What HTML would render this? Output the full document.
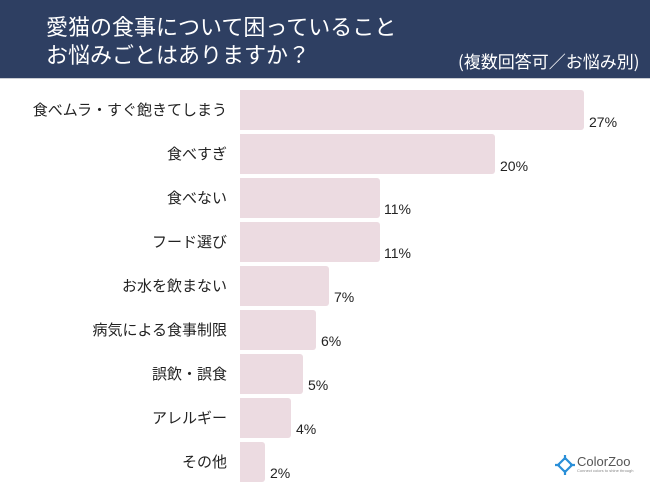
<!DOCTYPE html>
<html><head><meta charset="utf-8">
<style>
html,body{margin:0;padding:0;}
body{width:650px;height:488px;position:relative;background:#fff;overflow:hidden;font-family:"Liberation Sans","Noto Sans CJK JP",sans-serif;}
.hdr{position:absolute;left:0;top:0;width:650px;height:78px;background:#2e3f62;}
.hdr2{position:absolute;left:0;top:78px;width:650px;height:1px;background:#c9ccd3;}
.t{position:absolute;left:46px;color:#fff;font-family:"Noto Sans CJK JP",sans-serif;font-size:22px;line-height:28px;font-weight:normal;white-space:nowrap;}
.sub{position:absolute;left:458px;top:47px;color:#fff;font-family:"Noto Sans CJK JP",sans-serif;font-size:17px;line-height:28px;white-space:nowrap;}
.lab{position:absolute;right:423px;font-family:"Noto Sans CJK JP",sans-serif;font-size:15px;line-height:20px;color:#222;white-space:nowrap;text-align:right;}
.bar{position:absolute;left:240px;height:40px;background:#ecdbe1;border-radius:0 3px 3px 0;}
.pct{position:absolute;font-family:"Liberation Sans",sans-serif;font-size:14px;line-height:16px;color:#222;white-space:nowrap;}
</style></head><body>
<div class="hdr"></div><div class="hdr2"></div>
<div class="t" style="top:12px">愛猫の食事について困っていること</div>
<div class="t" style="top:40px">お悩みごとはありますか？</div>
<div class="sub">(複数回答可／お悩み別)</div>

<div class="lab" style="top:100px">食べムラ・すぐ飽きてしまう</div>
<div class="bar" style="top:90px;width:344px"></div>
<div class="pct" style="left:589px;top:114px">27%</div>

<div class="lab" style="top:144px">食べすぎ</div>
<div class="bar" style="top:134px;width:255px"></div>
<div class="pct" style="left:500px;top:158px">20%</div>

<div class="lab" style="top:188px">食べない</div>
<div class="bar" style="top:178px;width:140px"></div>
<div class="pct" style="left:384px;top:201px">11%</div>

<div class="lab" style="top:232px">フード選び</div>
<div class="bar" style="top:222px;width:140px"></div>
<div class="pct" style="left:384px;top:245px">11%</div>

<div class="lab" style="top:276px">お水を飲まない</div>
<div class="bar" style="top:266px;width:89px"></div>
<div class="pct" style="left:334px;top:289px">7%</div>

<div class="lab" style="top:320px">病気による食事制限</div>
<div class="bar" style="top:310px;width:76px"></div>
<div class="pct" style="left:321px;top:333px">6%</div>

<div class="lab" style="top:364px">誤飲・誤食</div>
<div class="bar" style="top:354px;width:63px"></div>
<div class="pct" style="left:308px;top:377px">5%</div>

<div class="lab" style="top:408px">アレルギー</div>
<div class="bar" style="top:398px;width:51px"></div>
<div class="pct" style="left:296px;top:421px">4%</div>

<div class="lab" style="top:452px">その他</div>
<div class="bar" style="top:442px;width:25px"></div>
<div class="pct" style="left:270px;top:465px">2%</div>

<svg style="position:absolute;left:555px;top:455px" width="20" height="20" viewBox="0 0 20 20">
<g fill="none" stroke="#2a8fd8" stroke-width="2.2">
<path d="M10 3 L17 10 L10 17 L3 10 Z"/>
<path d="M10 0 V5 M10 15 V20 M0 10 H5 M15 10 H20"/>
</g>
</svg>
<div style="position:absolute;left:577px;top:455px;font-family:'Liberation Sans',sans-serif;font-size:13px;line-height:14px;color:#555;">ColorZoo</div>
<div style="position:absolute;left:577px;top:469px;font-family:'Liberation Sans',sans-serif;font-size:4px;line-height:4px;color:#888;white-space:nowrap;">Connect colors to shine through</div>
</body></html>
